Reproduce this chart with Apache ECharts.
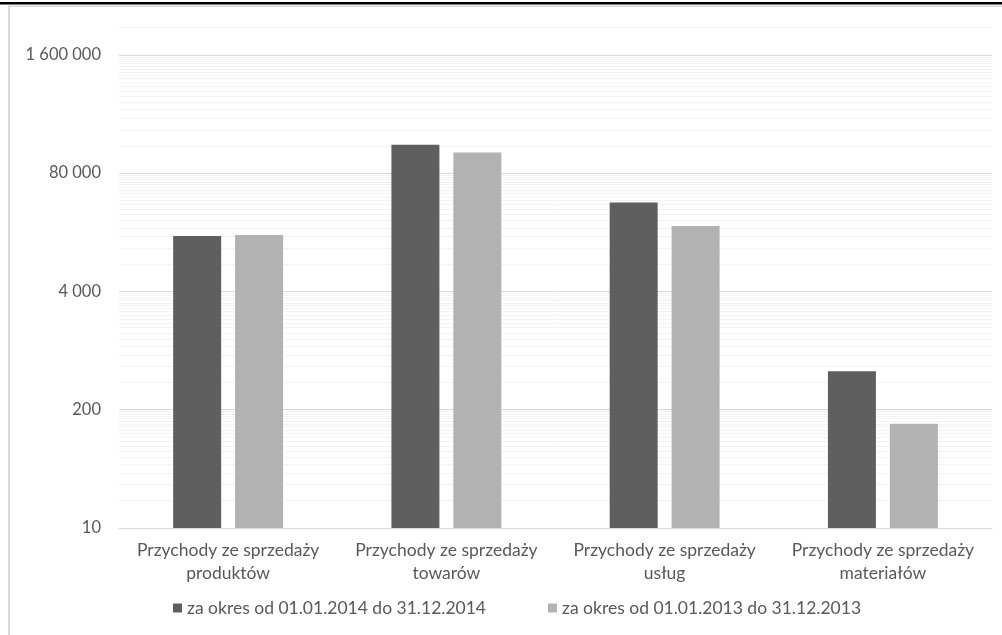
<!DOCTYPE html>
<html>
<head>
<meta charset="utf-8">
<script src="https://cdn.jsdelivr.net/npm/echarts@6/dist/echarts.min.js"></script>
<style>
  html, body { margin: 0; padding: 0; background: #ffffff; }
  #chart { width: 1002px; height: 635px; }
</style>
</head>
<body>
<div id="chart"></div>
<script>
// Categories and revenue values (PLN), two reporting periods
const categories = [
  'Przychody ze sprzedaży\nproduktów',
  'Przychody ze sprzedaży\ntowarów',
  'Przychody ze sprzedaży\nusług',
  'Przychody ze sprzedaży\nmateriałów'
];
const seriesNames = [
  'za okres od 01.01.2014 do 31.12.2014',
  'za okres od 01.01.2013 do 31.12.2013'
];
const values2014 = [16300, 164000, 38000, 530];
const values2013 = [16700, 135000, 21000, 140];

// Logarithmic axis (base 20) tick values and range
const yTicks = [10, 200, 4000, 80000, 1600000];
const yMin = 10;
const yMax = 3200000;
// Multipliers for minor gridlines inside each base-20 step
const minorMultipliers = [2, 3, 4, 5, 6, 7, 8, 9, 10, 11, 12, 13, 14, 15, 16, 17, 18, 19];

const minorLines = [];
yTicks.forEach(function (t) {
  minorMultipliers.forEach(function (k) {
    const v = t * k;
    if (v <= yMax) minorLines.push({ yAxis: v });
  });
});

function fmt(v) {
  return String(v).replace(/\B(?=(\d{3})+(?!\d))/g, ' ');
}

const chart = echarts.init(document.getElementById('chart'), null, { renderer: 'canvas' });

const textColor = '#595959';
const fontFamily = 'Lato, "Open Sans", sans-serif';

chart.setOption({
  animation: false,
  backgroundColor: '#ffffff',
  textStyle: { fontFamily: fontFamily },
  graphic: [
    { type: 'rect', shape: { x: 0, y: 2, width: 1002, height: 2.5 }, style: { fill: '#000000' }, silent: true },
    { type: 'rect', shape: { x: 8, y: 5.5, width: 994, height: 1.5 }, style: { fill: '#d9d9d9' }, silent: true },
    { type: 'rect', shape: { x: 8, y: 5.5, width: 2, height: 630 }, style: { fill: '#d9d9d9' }, silent: true }
  ],
  grid: {
    left: 119,
    right: 10,
    top: 27.5,
    bottom: 107,
    containLabel: false
  },
  legend: {
    data: seriesNames,
    bottom: 13,
    left: 168,
    itemWidth: 9,
    itemHeight: 9,
    itemGap: 62,
    icon: 'rect',
    textStyle: { color: textColor, fontSize: 17.5, fontFamily: fontFamily }
  },
  xAxis: {
    type: 'category',
    data: categories,
    axisLine: { show: true, lineStyle: { color: '#d9d9d9', width: 1 } },
    axisTick: { show: false },
    axisLabel: {
      interval: 0,
      color: textColor,
      fontSize: 17.5,
      lineHeight: 23,
      margin: 11,
      fontFamily: fontFamily
    },
    splitLine: { show: false }
  },
  yAxis: {
    type: 'log',
    logBase: 20,
    min: yMin,
    max: yMax,
    axisLine: { show: false },
    axisTick: { show: false, customValues: yTicks },
    axisLabel: {
      customValues: yTicks,
      color: textColor,
      fontSize: 16.5,
      margin: 18,
      fontFamily: fontFamily,
      formatter: function (v) { return fmt(v); }
    },
    splitLine: { show: true, lineStyle: { color: '#d9d9d9', width: 1 } }
  },
  series: [
    {
      name: seriesNames[0],
      type: 'bar',
      data: values2014,
      barWidth: 48,
      barGap: '29%',
      itemStyle: { color: '#5f5f5f' },
      z: 3,
      markLine: {
        silent: true,
        symbol: ['none', 'none'],
        label: { show: false },
        lineStyle: { color: '#f3f3f3', width: 1, type: 'solid' },
        emphasis: { disabled: true },
        data: minorLines,
        z: 1
      }
    },
    {
      name: seriesNames[1],
      type: 'bar',
      data: values2013,
      barWidth: 48,
      barGap: '29%',
      itemStyle: { color: '#b2b2b2' },
      z: 3
    }
  ]
});
</script>
</body>
</html>
